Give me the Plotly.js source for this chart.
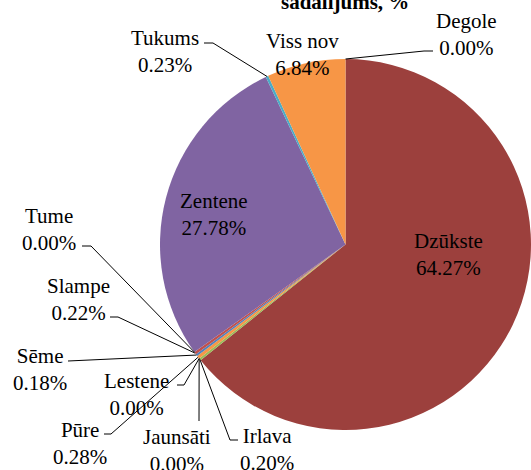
<!DOCTYPE html>
<html>
<head>
<meta charset="utf-8">
<script src="https://cdn.plot.ly/plotly-3.0.1.min.js"></script>
<style>html,body{margin:0;padding:0;background:#fff;}#chart{width:531px;height:470px;}</style>
</head>
<body>
<div id="chart"></div>
<script>
// ---- data ----
const labels = ['Degole','Dzūkste','Irlava','Jaunsāti','Lestene','Pūre','Sēme','Slampe','Tume','Zentene','Tukums','Viss nov'];
const values = [0.00, 64.27, 0.20, 0.00, 0.00, 0.28, 0.18, 0.22, 0.00, 27.78, 0.23, 6.84];
const colors = ['#4F81BD','#9C403D','#9BBB59','#8064A2','#4BACC6','#F79646','#4F81BD','#C0504D','#9BBB59','#8064A2','#4BACC6','#F79646'];
const titleText = 'sadalījums, %';

// ---- layout / styling ----
const W = 531, H = 470;
const pieBox = {x0: 160, x1: 531, y0: 59, y1: 430}; // pixel box of the pie domain
const FONT = 'Liberation Serif, Times New Roman, serif';
// label block centre (px) and leader-line elbow points (px), text placement only
const place = {
  'Degole':   {x: 466, y: 34,  leader: [[433, 51], [424, 51]]},
  'Dzūkste':  {x: 448, y: 254, leader: null},
  'Irlava':   {x: 267, y: 449, leader: [[238, 440], [230, 440]]},
  'Jaunsāti': {x: 177, y: 450, leader: [[199, 421]]},
  'Lestene':  {x: 137, y: 394, leader: [[177, 385], [184, 385]]},
  'Pūre':     {x: 80,  y: 443, leader: [[104, 434], [111, 434]]},
  'Sēme':     {x: 40,  y: 369, leader: [[68, 361]]},
  'Slampe':   {x: 78,  y: 299, leader: [[110, 317], [118, 317]]},
  'Tume':     {x: 49,  y: 230, leader: [[82, 246], [91, 246]]},
  'Zentene':  {x: 214, y: 215, leader: null},
  'Tukums':   {x: 165, y: 52,  leader: [[204, 43], [213, 43]]},
  'Viss nov': {x: 302, y: 54,  leader: null}
};

const px2x = p => p / W;
const py2y = p => 1 - p / H;

const total = values.reduce((a, b) => a + b, 0);
const cx = (pieBox.x0 + pieBox.x1) / 2, cy = (pieBox.y0 + pieBox.y1) / 2;
const R = Math.min(pieBox.x1 - pieBox.x0, pieBox.y1 - pieBox.y0) / 2;

const annotations = [];
const shapes = [];
let cum = 0;
labels.forEach((name, i) => {
  const mid = (cum + values[i] / 2) / total;
  cum += values[i];
  const ang = 2 * Math.PI * mid; // clockwise from top
  const tipX = cx + R * Math.sin(ang);
  const tipY = cy - R * Math.cos(ang);
  const p = place[name];
  annotations.push({
    x: px2x(p.x), y: py2y(p.y), xref: 'paper', yref: 'paper',
    xanchor: 'center', yanchor: 'middle', showarrow: false,
    text: name + '<br>' + values[i].toFixed(2) + '%',
    font: {family: FONT, size: 21, color: '#000'}
  });
  if (p.leader) {
    const pts = p.leader.concat([[tipX, tipY]]);
    let d = 'M ' + px2x(pts[0][0]) + ',' + py2y(pts[0][1]);
    for (let k = 1; k < pts.length; k++) d += ' L ' + px2x(pts[k][0]) + ',' + py2y(pts[k][1]);
    shapes.push({type: 'path', xref: 'paper', yref: 'paper', path: d, line: {color: '#000', width: 1}});
  }
});

annotations.push({
  x: px2x(345), y: py2y(2), xref: 'paper', yref: 'paper', xanchor: 'center', yanchor: 'middle',
  showarrow: false, text: '<b>' + titleText + '</b>', font: {family: FONT, size: 21, color: '#000'}
});

const trace = {
  type: 'pie', labels: labels, values: values, sort: false, direction: 'clockwise', rotation: 0,
  marker: {colors: colors, line: {width: 0}}, textinfo: 'none', hoverinfo: 'label+percent',
  domain: {x: [px2x(pieBox.x0), px2x(pieBox.x1)], y: [py2y(pieBox.y1), py2y(pieBox.y0)]},
  showlegend: false
};

Plotly.newPlot('chart', [trace], {
  width: W, height: H, margin: {l: 0, r: 0, t: 0, b: 0},
  paper_bgcolor: '#fff', showlegend: false, font: {family: FONT},
  annotations: annotations, shapes: shapes
}, {staticPlot: true});
</script>
</body>
</html>
